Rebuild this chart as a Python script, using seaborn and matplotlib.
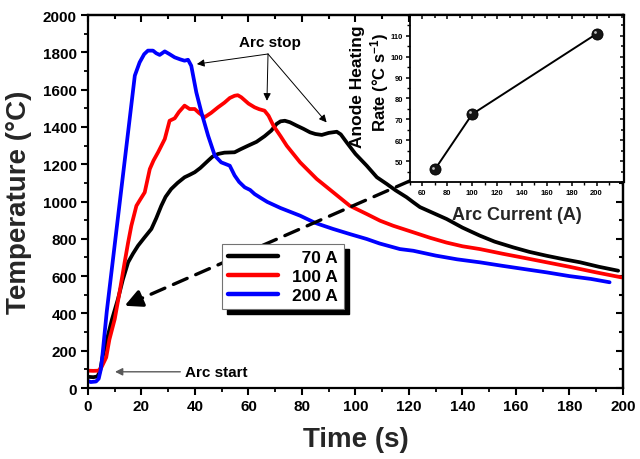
import matplotlib
matplotlib.use("Agg")
import matplotlib.pyplot as plt
import matplotlib.transforms as mtransforms
from matplotlib.ticker import MultipleLocator
import seaborn as sns
import pandas as pd

# ---------------- data ----------------
series_labels = ["70 A", "100 A", "200 A"]
series_colors = ["#000000", "#ff0000", "#0000ff"]

t_70 = [0, 2, 3.5, 4.5, 5.5, 6.8, 9, 11.2, 13, 15, 16.8, 18.7, 21, 23.7, 25.5, 27.4, 29, 31.1,
        33.5, 36.1, 38, 39.9, 42, 44.9, 46.5, 48.6, 51, 54.8, 57, 59.8, 63, 66, 68.5, 70.5, 72,
        73.6, 75.5, 78, 80.5, 83, 85, 87.4, 90, 93, 94.5, 96.7, 100, 104.2, 108, 111.7, 115,
        119.1, 121.6, 124.1, 128, 134.1, 140, 146.5, 152, 159, 165, 171.5, 178, 184, 191, 198.2]
T_70 = [60, 58, 62, 90, 170, 245, 370, 477, 580, 674, 720, 763, 805, 853, 910, 977, 1025, 1067,
        1100, 1130, 1143, 1157, 1180, 1219, 1240, 1255, 1262, 1264, 1280, 1299, 1320, 1350, 1380,
        1416, 1430, 1433, 1425, 1407, 1390, 1371, 1362, 1357, 1368, 1374, 1360, 1317, 1255, 1192,
        1130, 1094, 1060, 1023, 996, 970, 945, 906, 860, 817, 785, 754, 730, 709, 690, 674, 650, 629]

t_100 = [0, 2, 3.9, 5, 6, 6.8, 8, 10, 12, 13.7, 15, 16.2, 18.1, 19.5, 21.2, 23.1, 24.5, 26.2,
         28.7, 30.5, 32.4, 34, 36.1, 38, 39.9, 41.5, 43.6, 46, 48.6, 51, 53, 54.8, 56, 57.3, 60,
         62.3, 64, 66, 67.5, 69.3, 72, 74.3, 79.3, 85.5, 91.7, 97.9, 104.2, 109.2, 114.1, 121.6,
         128, 134, 140, 146.5, 155, 163, 171.5, 180, 190, 199.5]
T_100 = [93, 92, 93, 110, 140, 164, 260, 370, 530, 674, 780, 870, 977, 1010, 1049, 1174, 1220,
         1264, 1335, 1433, 1446, 1480, 1514, 1496, 1496, 1475, 1452, 1475, 1505, 1530, 1555, 1567,
         1570, 1559, 1525, 1505, 1495, 1487, 1460, 1407, 1350, 1299, 1210, 1121, 1049, 977, 933,
         897, 870, 835, 805, 780, 760, 745, 720, 698, 674, 650, 620, 593]

t_200 = [0, 1, 3, 4, 4.8, 5.5, 7, 10, 13, 15, 16.2, 17.5, 19.3, 21, 22.4, 24.3, 25.5, 26.8, 28.7,
         30.5, 32.4, 34.5, 36.1, 37.4, 38.6, 39.5, 40.5, 42.4, 44.9, 47.4, 49.8, 53, 54.8, 56.5,
         58.6, 60.6, 62.3, 64.5, 67, 72, 79.3, 85, 91.6, 98, 104.2, 109, 116.6, 121.6, 130, 138,
         146.5, 155, 163, 171.5, 180, 188, 195]
T_200 = [38, 32, 35, 50, 100, 190, 408, 770, 1132, 1373, 1518, 1675, 1746, 1790, 1809, 1809,
         1795, 1786, 1805, 1790, 1773, 1762, 1755, 1760, 1728, 1660, 1585, 1478, 1353, 1246, 1210,
         1192, 1140, 1105, 1076, 1062, 1040, 1020, 998, 965, 924, 885, 853, 825, 799, 775, 745,
         736, 710, 690, 674, 655, 638, 620, 600, 585, 567]

inset_current = [70, 100, 200]
inset_rate = [46, 72.5, 111]

x_ticks = list(range(0, 201, 20))
y_ticks = list(range(0, 2001, 200))
inset_x_ticks = list(range(60, 201, 20))
inset_y_ticks = list(range(50, 111, 10))

# ---------------- style ----------------
sns.set_theme(style="ticks")
plt.rcParams.update({
    "font.family": ["Liberation Sans", "DejaVu Sans"],
    "font.weight": "bold",
    "axes.labelweight": "bold",
    "mathtext.fontset": "custom",
    "mathtext.rm": "Liberation Sans:bold",
    "mathtext.bf": "Liberation Sans:bold",
    "mathtext.it": "Liberation Sans:bold",
    "mathtext.default": "bf",
    "axes.linewidth": 1.6,
    "axes.edgecolor": "black",
    "text.color": "black",
    "xtick.color": "black",
    "ytick.color": "black",
})

df = pd.concat([
    pd.DataFrame({"Time": t_70, "Temp": T_70, "Current": series_labels[0]}),
    pd.DataFrame({"Time": t_100, "Temp": T_100, "Current": series_labels[1]}),
    pd.DataFrame({"Time": t_200, "Temp": T_200, "Current": series_labels[2]}),
], ignore_index=True)

fig = plt.figure(figsize=(6.4, 4.6), dpi=100)
ax = fig.add_axes([0.1375, 0.1543, 0.8359, 0.8109])

sns.lineplot(data=df, x="Time", y="Temp", hue="Current", hue_order=series_labels,
             palette=dict(zip(series_labels, series_colors)), estimator=None, sort=False,
             lw=2.7, ax=ax, legend=False)

ax.set_xlim(0, 200)
ax.set_ylim(0, 2000)
ax.set_xticks(x_ticks)
ax.set_yticks(y_ticks)
ax.xaxis.set_minor_locator(MultipleLocator(10))
ax.yaxis.set_minor_locator(MultipleLocator(100))
ax.tick_params(which="major", direction="out", length=5, width=1.5, labelsize=11, pad=3)
ax.tick_params(which="minor", direction="out", length=3, width=1.3)
for lab in ax.get_xticklabels() + ax.get_yticklabels():
    lab.set_fontweight("bold")
ax.set_xlabel("Time (s)", fontsize=20, labelpad=9)
ax.set_ylabel("Temperature (°C)", fontsize=20, labelpad=8)


def mirror(a, xmaj, xmin, ymaj, ymin, lmaj, lmin, w):
    top = a.secondary_xaxis("top")
    top.set_xticks(xmaj)
    top.xaxis.set_minor_locator(MultipleLocator(xmin))
    top.tick_params(which="major", direction="in", length=lmaj, width=w, labeltop=False)
    top.tick_params(which="minor", direction="in", length=lmin, width=w, labeltop=False)
    right = a.secondary_yaxis("right")
    right.set_yticks(ymaj)
    right.yaxis.set_minor_locator(MultipleLocator(ymin))
    right.tick_params(which="major", direction="in", length=lmaj, width=w, labelright=False)
    right.tick_params(which="minor", direction="in", length=lmin, width=w, labelright=False)


mirror(ax, x_ticks, 10, y_ticks, 100, 5, 3, 1.5)

# legend (plus a solid black frame-only copy offset down-right as its drop shadow)
handles = ax.lines[:3]
leg_labels = ["\u200770 A", "100 A", "200 A"]
leg_kw = dict(loc="upper left", borderaxespad=0, fontsize=12.5, handlelength=2.9,
              handletextpad=0.8, labelspacing=0.22, borderpad=0.35, fancybox=False,
              framealpha=1)
shadow = ax.legend(handles, leg_labels, bbox_to_anchor=(0.25 + 5 / 535, 0.386 - 5 / 373),
                   facecolor="black", edgecolor="black", **leg_kw)
for tx in shadow.get_texts():
    tx.set_visible(False)
for ln in shadow.get_lines():
    ln.set_visible(False)
shadow.set_zorder(9)
ax.add_artist(shadow)

leg = ax.legend(handles, leg_labels, bbox_to_anchor=(0.25, 0.386), edgecolor="0.45", **leg_kw)
leg.get_frame().set_linewidth(0.8)
for ln in leg.get_lines():
    ln.set_linewidth(3.2)
for tx in leg.get_texts():
    tx.set_fontweight("bold")
leg.set_zorder(10)

# annotations
ax.text(68, 1855, "Arc stop", ha="center", va="center", fontsize=11, fontweight="bold")
origin = (67.3, 1791)
for target in [(40.7, 1737), (66.9, 1540), (89.2, 1424)]:
    ax.annotate("", xy=target, xytext=origin,
                arrowprops=dict(arrowstyle="-|>", color="black", lw=0.7,
                                mutation_scale=11, shrinkA=0, shrinkB=0))

ax.annotate("", xy=(10.1, 87), xytext=(34.5, 87),
            arrowprops=dict(arrowstyle="-|>", color="0.35", lw=1.0,
                            mutation_scale=11, shrinkA=0, shrinkB=0))
ax.text(36.3, 87, "Arc start", ha="left", va="center", fontsize=11, fontweight="bold")

ax.annotate("", xy=(17.5, 465), xytext=(120.4, 1111),
            arrowprops=dict(arrowstyle="-", color="black", lw=2.4,
                            linestyle=(0, (4.5, 2.8)), shrinkA=0, shrinkB=0), zorder=3)
ax.annotate("", xy=(13.7, 441), xytext=(19.0, 474),
            arrowprops=dict(arrowstyle="-|>", color="black", lw=2.4,
                            mutation_scale=26, shrinkA=0, shrinkB=0), zorder=3)

# ---------------- inset ----------------
axin = fig.add_axes([0.6406, 0.6022, 0.3344, 0.3630])
axin.set_facecolor("white")
sns.lineplot(x=inset_current, y=inset_rate, ax=axin, color="black", lw=1.4,
             marker="o", markersize=8, markerfacecolor="#151515",
             markeredgecolor="black", markeredgewidth=0.6)
trans = mtransforms.offset_copy(axin.transData, fig=fig, x=-1.3, y=1.3, units="points")
sns.scatterplot(x=inset_current, y=inset_rate, ax=axin, s=4, color="0.75",
                linewidth=0, transform=trans, zorder=5)
axin.set_xlim(50, 222)
axin.set_ylim(40, 120)
axin.set_xticks(inset_x_ticks)
axin.set_yticks(inset_y_ticks)
axin.xaxis.set_minor_locator(MultipleLocator(10))
axin.yaxis.set_minor_locator(MultipleLocator(5))
for s in axin.spines.values():
    s.set_linewidth(1.3)
axin.tick_params(which="major", direction="out", length=3, width=1.1, labelsize=5.5, pad=2)
axin.tick_params(which="minor", direction="out", length=2, width=1.0)
for lab in axin.get_xticklabels() + axin.get_yticklabels():
    lab.set_fontweight("bold")
mirror(axin, inset_x_ticks, 10, inset_y_ticks, 5, 3, 2, 1.1)
axin.set_xlabel("Arc Current (A)", fontsize=13, labelpad=7)
axin.set_ylabel("")
axin.text(-0.245, 0.575, "Anode Heating", transform=axin.transAxes,
          rotation=90, ha="center", va="center", fontsize=12.5, fontweight="bold")
axin.text(-0.140, 0.60, "Rate (°C s$^{-1}$)", transform=axin.transAxes,
          rotation=90, ha="center", va="center", fontsize=12, fontweight="bold")

fig.savefig("out.png", dpi=100)
